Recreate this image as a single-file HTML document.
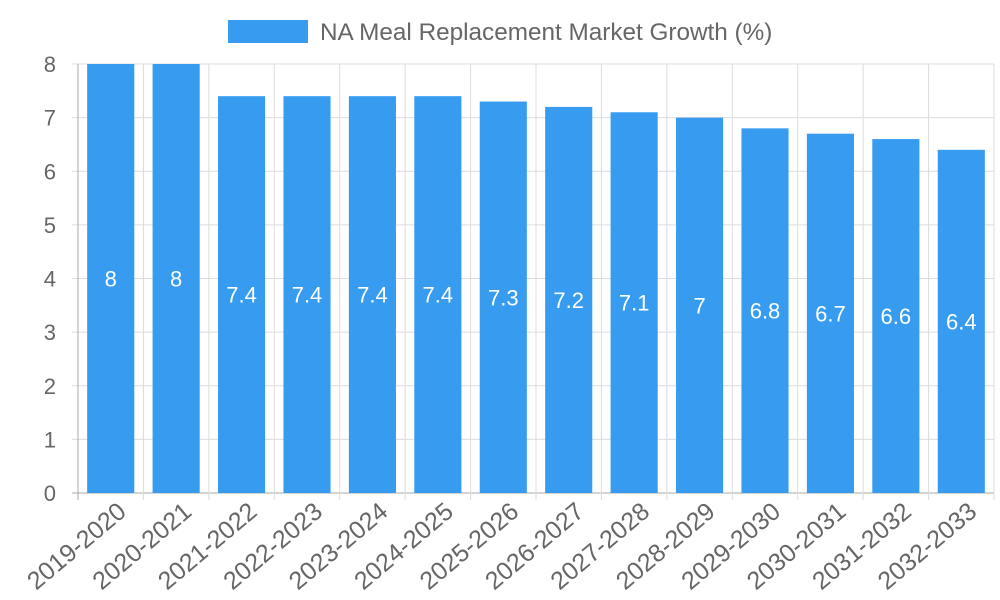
<!DOCTYPE html>
<html><head><meta charset="utf-8"><style>
body{margin:0;background:#fff;}
svg{display:block;font-family:"Liberation Sans",sans-serif;}
</style></head><body>
<svg id="chart" width="1000" height="600">
<g>
<rect x="228" y="20" width="80" height="23" fill="#379cf0"></rect>
<text x="320" y="40" font-size="24.3" fill="#666">NA Meal Replacement Market Growth (%)</text>
</g>
<g id="grid"></g><g id="bars"></g><g id="labels"></g>
</svg>
<script>
const categories=["2019-2020","2020-2021","2021-2022","2022-2023","2023-2024","2024-2025","2025-2026","2026-2027","2027-2028","2028-2029","2029-2030","2030-2031","2031-2032","2032-2033"];
const values=[8,8,7.4,7.4,7.4,7.4,7.3,7.2,7.1,7,6.8,6.7,6.6,6.4];
const yTicks=[0,1,2,3,4,5,6,7,8];
const NS="http://www.w3.org/2000/svg";
const L=78,R=994,T=64,B=493,yMax=8;
const bw=(R-L)/categories.length;
const y=v=>B-(v/yMax)*(B-T);
const x=i=>L+i*bw;
function mk(tag,attrs,parent,text){const e=document.createElementNS(NS,tag);for(const k in attrs)e.setAttribute(k,attrs[k]);if(text!==undefined)e.textContent=text;parent.appendChild(e);return e;}
const grid=document.getElementById('grid'),bars=document.getElementById('bars'),labels=document.getElementById('labels');
yTicks.forEach(t=>{
 const g=mk('line',{x1:72,x2:R,y1:y(t),y2:y(t),stroke:t===0?'#aaa':'#dcdcdc','stroke-width':1},grid);
 
 
 const tx=mk('text',{x:56,y:y(t)+8,'text-anchor':'end','font-size':22,fill:'#666'},grid,String(t));
 
 
});
for(let i=0;i<=categories.length;i++){
 const g=mk('line',{x1:x(i),x2:x(i),y1:T,y2:B+7,stroke:i===0?'#aaa':'#dcdcdc','stroke-width':1},grid);
 
 
}
categories.forEach((c,i)=>{
 const v=values[i],w=bw*0.72,cx=x(i)+bw/2;
 const r=mk('rect',{x:cx-w/2,y:y(v),width:w,height:B-y(v),fill:'#379cf0'},bars);
 
 
 const vl=mk('text',{x:cx,y:(y(v)+B)/2+8,'text-anchor':'middle','font-size':22,fill:'#fff'},labels,String(v));
 
 
 const ax=cx+17,ay=514;
 const xl=mk('text',{x:ax,y:ay,'text-anchor':'end','font-size':25,fill:'#666',transform:`rotate(-40 ${ax} ${ay})`},labels,c);
 
 
});
</script>
</body></html>
